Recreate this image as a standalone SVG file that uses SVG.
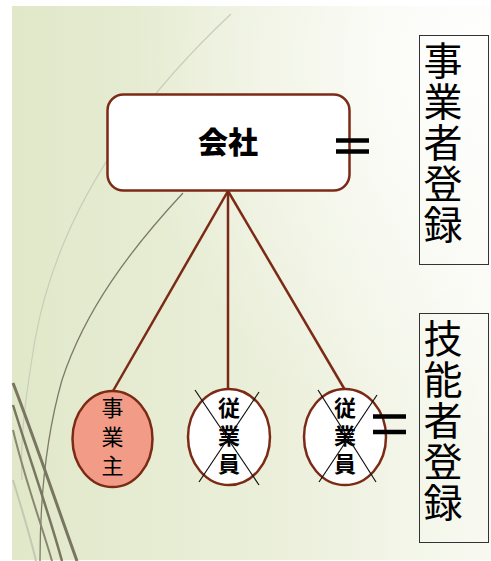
<svg xmlns="http://www.w3.org/2000/svg" width="491" height="561" viewBox="0 0 491 561">
<style>
.node{stroke:#7b2a16;stroke-width:2.5}
.conn{stroke:#7b2a16;stroke-width:2.5;fill:none}
.x{stroke:#111;stroke-width:1.2}
.eq{stroke:#000;stroke-width:4.5}
.big{font-family:"Noto Sans CJK JP","Noto Sans",sans-serif;font-size:39px;fill:#000;writing-mode:vertical-rl;letter-spacing:2px}
.sm{font-family:"Noto Sans CJK JP","Noto Sans",sans-serif;font-size:22px;fill:#000;writing-mode:vertical-rl;letter-spacing:7px}
.smb{font-family:"Noto Sans CJK JP","Noto Sans",sans-serif;font-size:22px;font-weight:bold;fill:#000;writing-mode:vertical-rl;letter-spacing:6px}
.deco{fill:none}
</style>
<defs>
<linearGradient id="bg" x1="0" y1="0" x2="1" y2="0">
<stop offset="0" stop-color="#e1e8c9"/>
<stop offset="0.6" stop-color="#ecf0dc"/>
<stop offset="1" stop-color="#f8faf2"/>
</linearGradient>
<radialGradient id="hl" cx="0.95" cy="0.1" r="0.7">
<stop offset="0" stop-color="#ffffff" stop-opacity="0.9"/>
<stop offset="1" stop-color="#ffffff" stop-opacity="0"/>
</radialGradient>
</defs>
<rect width="491" height="561" fill="#ffffff"/>
<rect x="12" y="6" width="479" height="554" fill="url(#bg)"/>
<rect x="12" y="6" width="479" height="554" fill="url(#hl)"/>
<g id="decor">
<path class="deco" d="M231,14 C150,90 60,200 35,340 C25,400 20,440 22,480" stroke="#c9cdb9" stroke-width="1.2"/>
<path class="deco" d="M183,193 C130,250 85,310 62,380 C45,440 40,500 40,561" stroke="#7e7a68" stroke-width="1.3"/>
<path class="deco" d="M13,383 C35,440 55,500 77,561" stroke="#7a7560" stroke-width="3"/>
<path class="deco" d="M13,405 C30,460 48,510 62,561" stroke="#7a7560" stroke-width="2.5"/>
<path class="deco" d="M13,430 C25,480 40,520 52,561" stroke="#8a8670" stroke-width="2"/>
<path class="deco" d="M13,480 C22,510 30,535 36,561" stroke="#c4c8b2" stroke-width="2"/>
</g>
<g id="connectors">
<line class="conn" x1="228" y1="191" x2="113" y2="391"/>
<line class="conn" x1="228" y1="191" x2="228" y2="389"/>
<line class="conn" x1="228" y1="191" x2="345" y2="390"/>
</g>
<g id="company">
<rect class="node" x="107.5" y="94.5" width="242" height="96" rx="16" fill="#ffffff"/>
<text x="228" y="140" font-family="'Noto Sans CJK JP','Noto Sans',sans-serif" font-size="30" font-weight="900" text-anchor="middle" dominant-baseline="central">会社</text>
</g>
<g id="eq1">
<line class="eq" x1="336" y1="140.5" x2="369" y2="140.5"/>
<line class="eq" x1="336" y1="151.5" x2="369" y2="151.5"/>
</g>
<g id="jigyosha-toroku">
<rect x="419.5" y="35.5" width="69" height="229" fill="none" stroke="#333" stroke-width="1"/>
<text class="big" x="443" y="41">事業者登録</text>
</g>
<g id="jigyonushi">
<ellipse class="node" cx="112.5" cy="439" rx="40" ry="48" fill="#f29c87" stroke-width="2"/>
<text class="sm" x="112.5" y="397">事業主</text>
</g>
<g id="jugyoin1">
<ellipse class="node" cx="229" cy="437" rx="41" ry="48" fill="#ffffff"/>
<text class="smb" x="229" y="397">従業員</text>
<line class="x" x1="195" y1="390" x2="259" y2="485"/>
<line class="x" x1="259" y1="392" x2="199" y2="482"/>
</g>
<g id="jugyoin2">
<ellipse class="node" cx="345" cy="437" rx="41" ry="48" fill="#ffffff"/>
<text class="smb" x="345" y="397">従業員</text>
<line class="x" x1="318" y1="390" x2="376" y2="482"/>
<line class="x" x1="377" y1="395" x2="319" y2="482"/>
</g>
<g id="eq2">
<line class="eq" x1="373" y1="416.5" x2="406" y2="416.5"/>
<line class="eq" x1="373" y1="432" x2="406" y2="432"/>
</g>
<g id="ginosha-toroku">
<rect x="419.5" y="313.5" width="69" height="229" fill="none" stroke="#333" stroke-width="1"/>
<text class="big" x="443" y="319">技能者登録</text>
</g>
</svg>
